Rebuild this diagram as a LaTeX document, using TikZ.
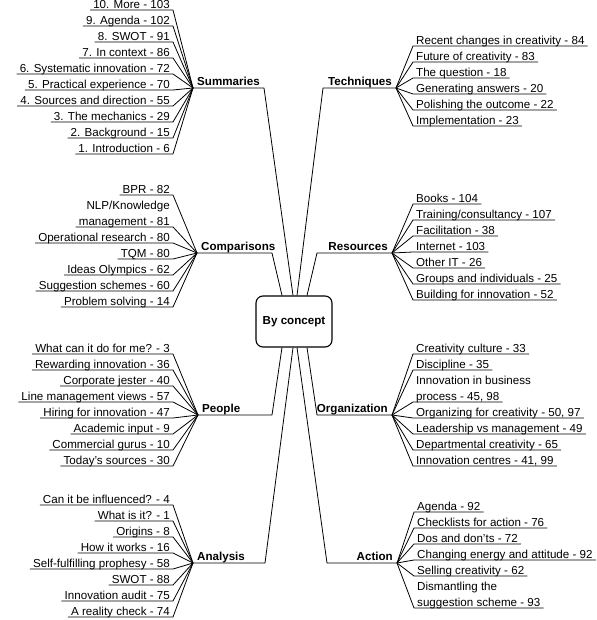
\documentclass[tikz,border=0pt]{standalone}
\usepackage{fontspec}
\setmainfont{Liberation Sans}
\usepackage{tikz}

\newcommand{\mapfont}{\fontsize{11.6}{14}\selectfont}

\tikzstyle{hub} = [
    rectangle,
    rounded corners=7pt,
    minimum width=76pt,
    minimum height=51pt,
    line width=1.1pt,
    draw=black,
    font=\mapfont\bfseries
]
\tikzstyle{topic} = [
    inner xsep=4pt,
    inner ysep=0pt,
    text height=8.5pt,
    text depth=2pt,
    font=\mapfont\bfseries
]
\tikzstyle{leftitem} = [
    anchor=south east,
    inner xsep=3pt,
    inner ysep=0pt,
    text height=8.5pt,
    text depth=1.5pt,
    font=\mapfont
]
\tikzstyle{rightitem} = [
    anchor=south west,
    inner xsep=3pt,
    inner ysep=0pt,
    text height=8.5pt,
    text depth=1.5pt,
    font=\mapfont
]
\tikzstyle{link} = [line width=0.8pt, line join=round]

\begin{document}
\begin{tikzpicture}[x=1pt, y=-1pt]

\useasboundingbox (0,0) rectangle (596,620);

\node (hub) [hub] at (294,321.5) {By concept};

\node (sum) [topic, anchor=south west] at (193,88) {Summaries};
\coordinate (sum-in) at (264,88);
\draw [link] ([xshift=-1pt]hub.north) -- (sum-in) -- (sum.south west);

\node (tec) [topic, anchor=south east] at (396,88) {Techniques};
\coordinate (tec-in) at (323,88);
\draw [link] ([xshift=3pt]hub.north) -- (tec-in) -- (tec.south east);

\node (com) [topic, anchor=south west] at (197,253) {Comparisons};
\coordinate (com-in) at (272,253);
\draw [link] ([xshift=-12pt]hub.north) -- (com-in) -- (com.south west);

\node (res) [topic, anchor=south east] at (392,253) {Resources};
\coordinate (res-in) at (317,253);
\draw [link] ([xshift=13pt]hub.north) -- (res-in) -- (res.south east);

\node (peo) [topic, anchor=south west] at (198,415) {People};
\coordinate (peo-in) at (272,415);
\draw [link] ([xshift=-12pt]hub.south) -- (peo-in) -- (peo.south west);

\node (org) [topic, anchor=south east] at (392,415) {Organization};
\coordinate (org-in) at (317,415);
\draw [link] ([xshift=13pt]hub.south) -- (org-in) -- (org.south east);

\node (ana) [topic, anchor=south west] at (193,563) {Analysis};
\coordinate (ana-in) at (265,563);
\draw [link] ([xshift=-1pt]hub.south) -- (ana-in) -- (ana.south west);

\node (act) [topic, anchor=south east] at (397,563) {Action};
\coordinate (act-in) at (327,563);
\draw [link] ([xshift=3pt]hub.south) -- (act-in) -- (act.south east);

\node (sum1) [leftitem] at (173,10) {10. More - 103};
\node (sum2) [leftitem] at (173,26) {9. Agenda - 102};
\node (sum3) [leftitem] at (173,42) {8. SWOT - 91};
\node (sum4) [leftitem] at (173,58) {7. In context - 86};
\node (sum5) [leftitem] at (173,74) {6. Systematic innovation - 72};
\node (sum6) [leftitem] at (173,90) {5. Practical experience - 70};
\node (sum7) [leftitem] at (173,106) {4. Sources and direction - 55};
\node (sum8) [leftitem] at (173,122) {3. The mechanics - 29};
\node (sum9) [leftitem] at (173,138) {2. Background - 15};
\node (sum10) [leftitem] at (173,154) {1. Introduction - 6};
\draw [link] (sum.south west) -- (sum1.south east) -- (sum1.south west);
\draw [link] (sum.south west) -- (sum2.south east) -- (sum2.south west);
\draw [link] (sum.south west) -- (sum3.south east) -- (sum3.south west);
\draw [link] (sum.south west) -- (sum4.south east) -- (sum4.south west);
\draw [link] (sum.south west) -- (sum5.south east) -- (sum5.south west);
\draw [link] (sum.south west) -- (sum6.south east) -- (sum6.south west);
\draw [link] (sum.south west) -- (sum7.south east) -- (sum7.south west);
\draw [link] (sum.south west) -- (sum8.south east) -- (sum8.south west);
\draw [link] (sum.south west) -- (sum9.south east) -- (sum9.south west);
\draw [link] (sum.south west) -- (sum10.south east) -- (sum10.south west);

\node (tec1) [rightitem] at (413,46) {Recent changes in creativity - 84};
\node (tec2) [rightitem] at (413,62) {Future of creativity - 83};
\node (tec3) [rightitem] at (413,78) {The question - 18};
\node (tec4) [rightitem] at (413,94) {Generating answers - 20};
\node (tec5) [rightitem] at (413,110) {Polishing the outcome - 22};
\node (tec6) [rightitem] at (413,126) {Implementation - 23};
\draw [link] (tec.south east) -- (tec1.south west) -- (tec1.south east);
\draw [link] (tec.south east) -- (tec2.south west) -- (tec2.south east);
\draw [link] (tec.south east) -- (tec3.south west) -- (tec3.south east);
\draw [link] (tec.south east) -- (tec4.south west) -- (tec4.south east);
\draw [link] (tec.south east) -- (tec5.south west) -- (tec5.south east);
\draw [link] (tec.south east) -- (tec6.south west) -- (tec6.south east);

\node (com1) [leftitem] at (173,195) {BPR - 82};
\node (com2a) [leftitem] at (173,211) {NLP/Knowledge};
\node (com2) [leftitem] at (173,227) {management - 81};
\node (com3) [leftitem] at (173,243) {Operational research - 80};
\node (com4) [leftitem] at (173,259) {TQM - 80};
\node (com5) [leftitem] at (173,275) {Ideas Olympics - 62};
\node (com6) [leftitem] at (173,291) {Suggestion schemes - 60};
\node (com7) [leftitem] at (173,307) {Problem solving - 14};
\draw [link] (com.south west) -- (com1.south east) -- (com1.south west);
\draw [link] (com.south west) -- (com2.south east) -- (com2.south west);
\draw [link] (com.south west) -- (com3.south east) -- (com3.south west);
\draw [link] (com.south west) -- (com4.south east) -- (com4.south west);
\draw [link] (com.south west) -- (com5.south east) -- (com5.south west);
\draw [link] (com.south west) -- (com6.south east) -- (com6.south west);
\draw [link] (com.south west) -- (com7.south east) -- (com7.south west);

\node (res1) [rightitem] at (413,204) {Books - 104};
\node (res2) [rightitem] at (413,220) {Training/consultancy - 107};
\node (res3) [rightitem] at (413,236) {Facilitation - 38};
\node (res4) [rightitem] at (413,252) {Internet - 103};
\node (res5) [rightitem] at (413,268) {Other IT - 26};
\node (res6) [rightitem] at (413,284) {Groups and individuals - 25};
\node (res7) [rightitem] at (413,300) {Building for innovation - 52};
\draw [link] (res.south east) -- (res1.south west) -- (res1.south east);
\draw [link] (res.south east) -- (res2.south west) -- (res2.south east);
\draw [link] (res.south east) -- (res3.south west) -- (res3.south east);
\draw [link] (res.south east) -- (res4.south west) -- (res4.south east);
\draw [link] (res.south east) -- (res5.south west) -- (res5.south east);
\draw [link] (res.south east) -- (res6.south west) -- (res6.south east);
\draw [link] (res.south east) -- (res7.south west) -- (res7.south east);

\node (peo1) [leftitem] at (173,354) {What can it do for me? - 3};
\node (peo2) [leftitem] at (173,370) {Rewarding innovation - 36};
\node (peo3) [leftitem] at (173,386) {Corporate jester - 40};
\node (peo4) [leftitem] at (173,402) {Line management views - 57};
\node (peo5) [leftitem] at (173,418) {Hiring for innovation - 47};
\node (peo6) [leftitem] at (173,434) {Academic input - 9};
\node (peo7) [leftitem] at (173,450) {Commercial gurus - 10};
\node (peo8) [leftitem] at (173,466) {Today's sources - 30};
\draw [link] (peo.south west) -- (peo1.south east) -- (peo1.south west);
\draw [link] (peo.south west) -- (peo2.south east) -- (peo2.south west);
\draw [link] (peo.south west) -- (peo3.south east) -- (peo3.south west);
\draw [link] (peo.south west) -- (peo4.south east) -- (peo4.south west);
\draw [link] (peo.south west) -- (peo5.south east) -- (peo5.south west);
\draw [link] (peo.south west) -- (peo6.south east) -- (peo6.south west);
\draw [link] (peo.south west) -- (peo7.south east) -- (peo7.south west);
\draw [link] (peo.south west) -- (peo8.south east) -- (peo8.south west);

\node (org1) [rightitem] at (413,354) {Creativity culture - 33};
\node (org2) [rightitem] at (413,370) {Discipline - 35};
\node (org3a) [rightitem] at (413,386) {Innovation in business};
\node (org3) [rightitem] at (413,402) {process - 45, 98};
\node (org4) [rightitem] at (413,418) {Organizing for creativity - 50, 97};
\node (org5) [rightitem] at (413,434) {Leadership vs management - 49};
\node (org6) [rightitem] at (413,450) {Departmental creativity - 65};
\node (org7) [rightitem] at (413,466) {Innovation centres - 41, 99};
\draw [link] (org.south east) -- (org1.south west) -- (org1.south east);
\draw [link] (org.south east) -- (org2.south west) -- (org2.south east);
\draw [link] (org.south east) -- (org3.south west) -- (org3.south east);
\draw [link] (org.south east) -- (org4.south west) -- (org4.south east);
\draw [link] (org.south east) -- (org5.south west) -- (org5.south east);
\draw [link] (org.south east) -- (org6.south west) -- (org6.south east);
\draw [link] (org.south east) -- (org7.south west) -- (org7.south east);

\node (ana1) [leftitem] at (173,505) {Can it be influenced? - 4};
\node (ana2) [leftitem] at (173,521) {What is it? - 1};
\node (ana3) [leftitem] at (173,537) {Origins - 8};
\node (ana4) [leftitem] at (173,553) {How it works - 16};
\node (ana5) [leftitem] at (173,569) {Self-fulfilling prophesy - 58};
\node (ana6) [leftitem] at (173,585) {SWOT - 88};
\node (ana7) [leftitem] at (173,601) {Innovation audit - 75};
\node (ana8) [leftitem] at (173,617) {A reality check - 74};
\draw [link] (ana.south west) -- (ana1.south east) -- (ana1.south west);
\draw [link] (ana.south west) -- (ana2.south east) -- (ana2.south west);
\draw [link] (ana.south west) -- (ana3.south east) -- (ana3.south west);
\draw [link] (ana.south west) -- (ana4.south east) -- (ana4.south west);
\draw [link] (ana.south west) -- (ana5.south east) -- (ana5.south west);
\draw [link] (ana.south west) -- (ana6.south east) -- (ana6.south west);
\draw [link] (ana.south west) -- (ana7.south east) -- (ana7.south west);
\draw [link] (ana.south west) -- (ana8.south east) -- (ana8.south west);

\node (act1) [rightitem] at (414,512) {Agenda - 92};
\node (act2) [rightitem] at (414,528) {Checklists for action - 76};
\node (act3) [rightitem] at (414,544) {Dos and don't{}s - 72};
\node (act4) [rightitem] at (414,560) {Changing energy and attitude - 92};
\node (act5) [rightitem] at (414,576) {Selling creativity - 62};
\node (act6a) [rightitem] at (414,592) {Dismantling the};
\node (act6) [rightitem] at (414,608) {suggestion scheme - 93};
\draw [link] (act.south east) -- (act1.south west) -- (act1.south east);
\draw [link] (act.south east) -- (act2.south west) -- (act2.south east);
\draw [link] (act.south east) -- (act3.south west) -- (act3.south east);
\draw [link] (act.south east) -- (act4.south west) -- (act4.south east);
\draw [link] (act.south east) -- (act5.south west) -- (act5.south east);
\draw [link] (act.south east) -- (act6.south west) -- (act6.south east);

\end{tikzpicture}
\end{document}
